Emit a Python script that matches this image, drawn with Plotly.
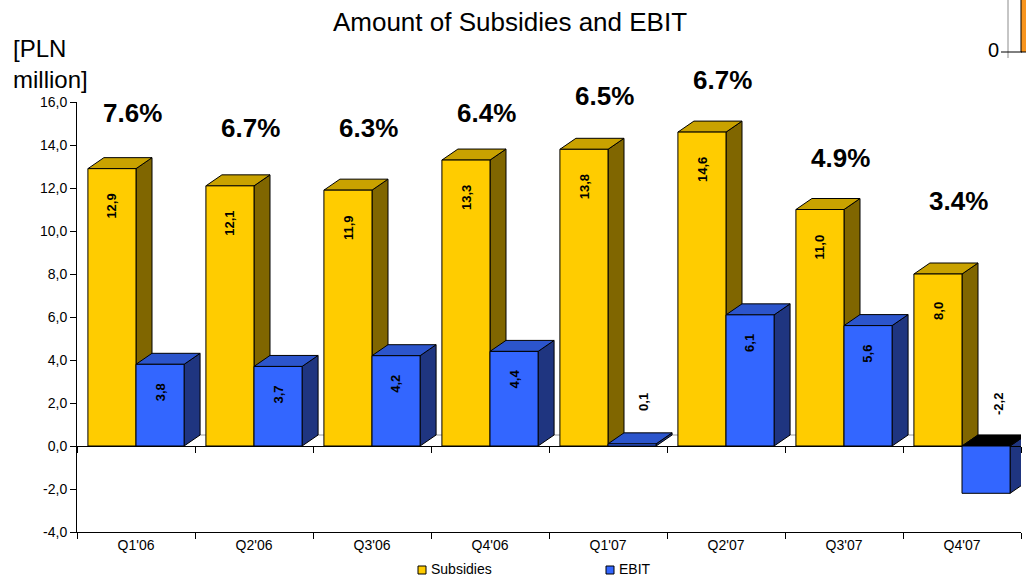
import plotly.graph_objects as go

# ---- data -------------------------------------------------------------
quarters = ["Q1'06", "Q2'06", "Q3'06", "Q4'06", "Q1'07", "Q2'07", "Q3'07", "Q4'07"]
subsidies = [12.9, 12.1, 11.9, 13.3, 13.8, 14.6, 11.0, 8.0]
ebit = [3.8, 3.7, 4.2, 4.4, 0.1, 6.1, 5.6, -2.2]
margin_text = ["7.6%", "6.7%", "6.3%", "6.4%", "6.5%", "6.7%", "4.9%", "3.4%"]
y_tick_vals = [16, 14, 12, 10, 8, 6, 4, 2, 0, -2, -4]
y_tick_text = ["16,0", "14,0", "12,0", "10,0", "8,0", "6,0", "4,0", "2,0", "0,0", "-2,0", "-4,0"]

# height (in y-axis units) at which each margin label sits
margin_label_level = [15.5, 14.8, 14.8, 15.5, 16.3, 17.0, 13.4, 11.4]

# ---- geometry ---------------------------------------------------------
W, H = 1026, 579
MARGIN = dict(l=77, r=5, t=102, b=47)
PLOT_W = W - MARGIN["l"] - MARGIN["r"]
PLOT_H = H - MARGIN["t"] - MARGIN["b"]
X_RANGE = [-0.5, len(quarters) - 0.5]
Y_RANGE = [-4, 16]
PX_PER_X = PLOT_W / (X_RANGE[1] - X_RANGE[0])
PX_PER_Y = PLOT_H / (Y_RANGE[1] - Y_RANGE[0])
DEPTH_X = 16 / PX_PER_X          # 3-D depth offset, converted to axis units
DEPTH_Y = 11 / PX_PER_Y
BARGAP = 0.185
BAR_W = (1 - BARGAP) / 2

FONT = "Liberation Sans, Arial, sans-serif"

SUB_FRONT, SUB_TOP, SUB_SIDE = "#FFCC00", "#C9A200", "#806600"
EB_FRONT, EB_TOP, EB_SIDE = "#3366FF", "#2C55CC", "#1F3580"


def px_to_paper(px, py):
    return (px - MARGIN["l"]) / PLOT_W, (H - MARGIN["b"] - py) / PLOT_H


def prism_faces(x0, x1, v, top_col, side_col):
    hi = max(v, 0)
    lo = min(v, 0)
    face_top = top_col if v >= 0 else "#000000"
    top = (f"M{x0},{hi} L{x1},{hi} L{x1 + DEPTH_X},{hi + DEPTH_Y} "
           f"L{x0 + DEPTH_X},{hi + DEPTH_Y} Z")
    side = (f"M{x1},{lo} L{x1 + DEPTH_X},{lo + DEPTH_Y} "
            f"L{x1 + DEPTH_X},{hi + DEPTH_Y} L{x1},{hi} Z")
    line = dict(color="black", width=1)
    return [
        dict(type="path", path=side, fillcolor=side_col, line=line,
             xref="x", yref="y", layer="below"),
        dict(type="path", path=top, fillcolor=face_top, line=line,
             xref="x", yref="y", layer="below"),
    ]


xs = list(range(len(quarters)))

fig = go.Figure()
fig.add_trace(go.Bar(x=xs, y=subsidies, name="Subsidies",
                     marker=dict(color=SUB_FRONT, line=dict(color="black", width=1)),
                     showlegend=False))
fig.add_trace(go.Bar(x=xs, y=ebit, name="EBIT",
                     marker=dict(color=EB_FRONT, line=dict(color="black", width=1)),
                     showlegend=False))
# keeps the zero-line tick axis alive
fig.add_trace(go.Scatter(x=[None], y=[None], xaxis="x2", showlegend=False,
                         hoverinfo="skip"))

shapes = []
# back edge of the floor
shapes.append(dict(type="line", xref="x", yref="y",
                   x0=X_RANGE[0] + DEPTH_X, x1=X_RANGE[1] + DEPTH_X,
                   y0=DEPTH_Y, y1=DEPTH_Y,
                   line=dict(color="#9A9A9A", width=1), layer="below"))
for i, v in enumerate(subsidies):
    shapes += prism_faces(i - BAR_W, i, v, SUB_TOP, SUB_SIDE)
for i, v in enumerate(ebit):
    shapes += prism_faces(i, i + BAR_W, v, EB_TOP, EB_SIDE)

annotations = []
# value labels
for i, v in enumerate(subsidies):
    annotations.append(dict(x=i - BAR_W / 2, y=v, xref="x", yref="y",
                            xanchor="center", yanchor="middle",
                            text=f"<b>{v:.1f}</b>".replace(".", ","),
                            textangle=-90, showarrow=False, yshift=-37,
                            font=dict(family=FONT, size=13, color="black")))
for i, v in enumerate(ebit):
    label = f"<b>{v:.1f}</b>".replace(".", ",")
    if v > 1:
        annotations.append(dict(x=i + BAR_W / 2, y=v, xref="x", yref="y",
                                xanchor="center", yanchor="middle",
                                text=label, textangle=-90, showarrow=False,
                                yshift=-28,
                                font=dict(family=FONT, size=13, color="black")))
    else:
        annotations.append(dict(x=i + BAR_W / 2, y=max(v, 0), xref="x", yref="y",
                                xanchor="center", yanchor="middle",
                                text=label, textangle=-90, showarrow=False,
                                yshift=42, xshift=12,
                                font=dict(family=FONT, size=13, color="black")))

# margin labels above each quarter
for i, (t, lvl) in enumerate(zip(margin_text, margin_label_level)):
    annotations.append(dict(x=i, xref="x", xshift=-4, xanchor="center",
                            y=(lvl - Y_RANGE[0]) / (Y_RANGE[1] - Y_RANGE[0]),
                            yref="paper", yanchor="middle",
                            text=f"<b>{t}</b>", showarrow=False,
                            font=dict(family=FONT, size=26, color="black")))

# unit label
ux, uy = px_to_paper(11, 64)
annotations.append(dict(x=ux, y=uy, xref="paper", yref="paper",
                        xanchor="left", yanchor="middle", align="left",
                        text="[PLN<br>million]", showarrow=False,
                        font=dict(family=FONT, size=24, color="black")))

# legend
for name, col, px in [("Subsidies", SUB_FRONT, 418), ("EBIT", EB_FRONT, 606)]:
    lx0, ly0 = px_to_paper(px, 574)
    lx1, ly1 = px_to_paper(px + 8, 566)
    shapes.append(dict(type="rect", xref="paper", yref="paper",
                       x0=lx0, x1=lx1, y0=ly0, y1=ly1, fillcolor=col,
                       line=dict(color="black", width=1)))
    tx, ty = px_to_paper(px + 11, 569)
    annotations.append(dict(x=tx, y=ty, xref="paper", yref="paper",
                            xanchor="left", yanchor="middle", text=name,
                            showarrow=False,
                            font=dict(family=FONT, size=14, color="black")))

# edge of a neighbouring chart at the top right
gx0, gy0 = px_to_paper(1008, 0)
gx1, gy1 = px_to_paper(1008, 58)
shapes.append(dict(type="line", xref="paper", yref="paper", x0=gx0, x1=gx1,
                   y0=gy0, y1=gy1, line=dict(color="#8C8C8C", width=1)))
ox0, oy0 = px_to_paper(1021, -5)
ox1, oy1 = px_to_paper(1032, 52)
shapes.append(dict(type="rect", xref="paper", yref="paper", x0=ox0, x1=ox1,
                   y0=oy0, y1=oy1, fillcolor="#F7941D",
                   line=dict(color="black", width=1)))
tx0, ty0 = px_to_paper(1001, 52)
tx1, _ = px_to_paper(1022, 52)
shapes.append(dict(type="line", xref="paper", yref="paper", x0=tx0, x1=tx1,
                   y0=ty0, y1=ty0, line=dict(color="black", width=1)))
zx, zy = px_to_paper(993, 50)
annotations.append(dict(x=zx, y=zy, xref="paper", yref="paper",
                        xanchor="center", yanchor="middle",
                        text="0", showarrow=False,
                        font=dict(family=FONT, size=20, color="black")))

boundaries = [X_RANGE[0] + k for k in range(len(quarters) + 1)]

fig.update_layout(
    width=W, height=H, margin=MARGIN,
    paper_bgcolor="white", plot_bgcolor="white",
    barmode="group", bargap=BARGAP, bargroupgap=0,
    title=dict(text="Amount of Subsidies and EBIT", x=510 / W, xref="container",
               xanchor="center", y=1 - 22 / H, yanchor="middle",
               font=dict(family=FONT, size=26, color="black")),
    font=dict(family=FONT, size=14, color="black"),
    xaxis=dict(range=X_RANGE, tickvals=xs, ticktext=quarters, ticks="",
               showline=True, linecolor="black", linewidth=1,
               showgrid=False, zeroline=False,
               minor=dict(tickvals=boundaries, ticks="outside", ticklen=6,
                          tickcolor="black", tickwidth=1, showgrid=False),
               tickfont=dict(family=FONT, size=14, color="black")),
    xaxis2=dict(range=X_RANGE, overlaying="x", anchor="free",
                position=(0 - Y_RANGE[0]) / (Y_RANGE[1] - Y_RANGE[0]),
                tickvals=boundaries, ticks="outside", ticklen=6,
                tickcolor="black", showticklabels=False, showline=False,
                showgrid=False, zeroline=False),
    yaxis=dict(range=Y_RANGE, tickvals=y_tick_vals, ticktext=y_tick_text,
               ticks="outside", ticklen=6, tickcolor="black",
               showline=True, linecolor="black", linewidth=1,
               showgrid=False, zeroline=True, zerolinecolor="black",
               zerolinewidth=1,
               tickfont=dict(family=FONT, size=14, color="black")),
    shapes=shapes, annotations=annotations,
)

fig.write_html("out.html")
